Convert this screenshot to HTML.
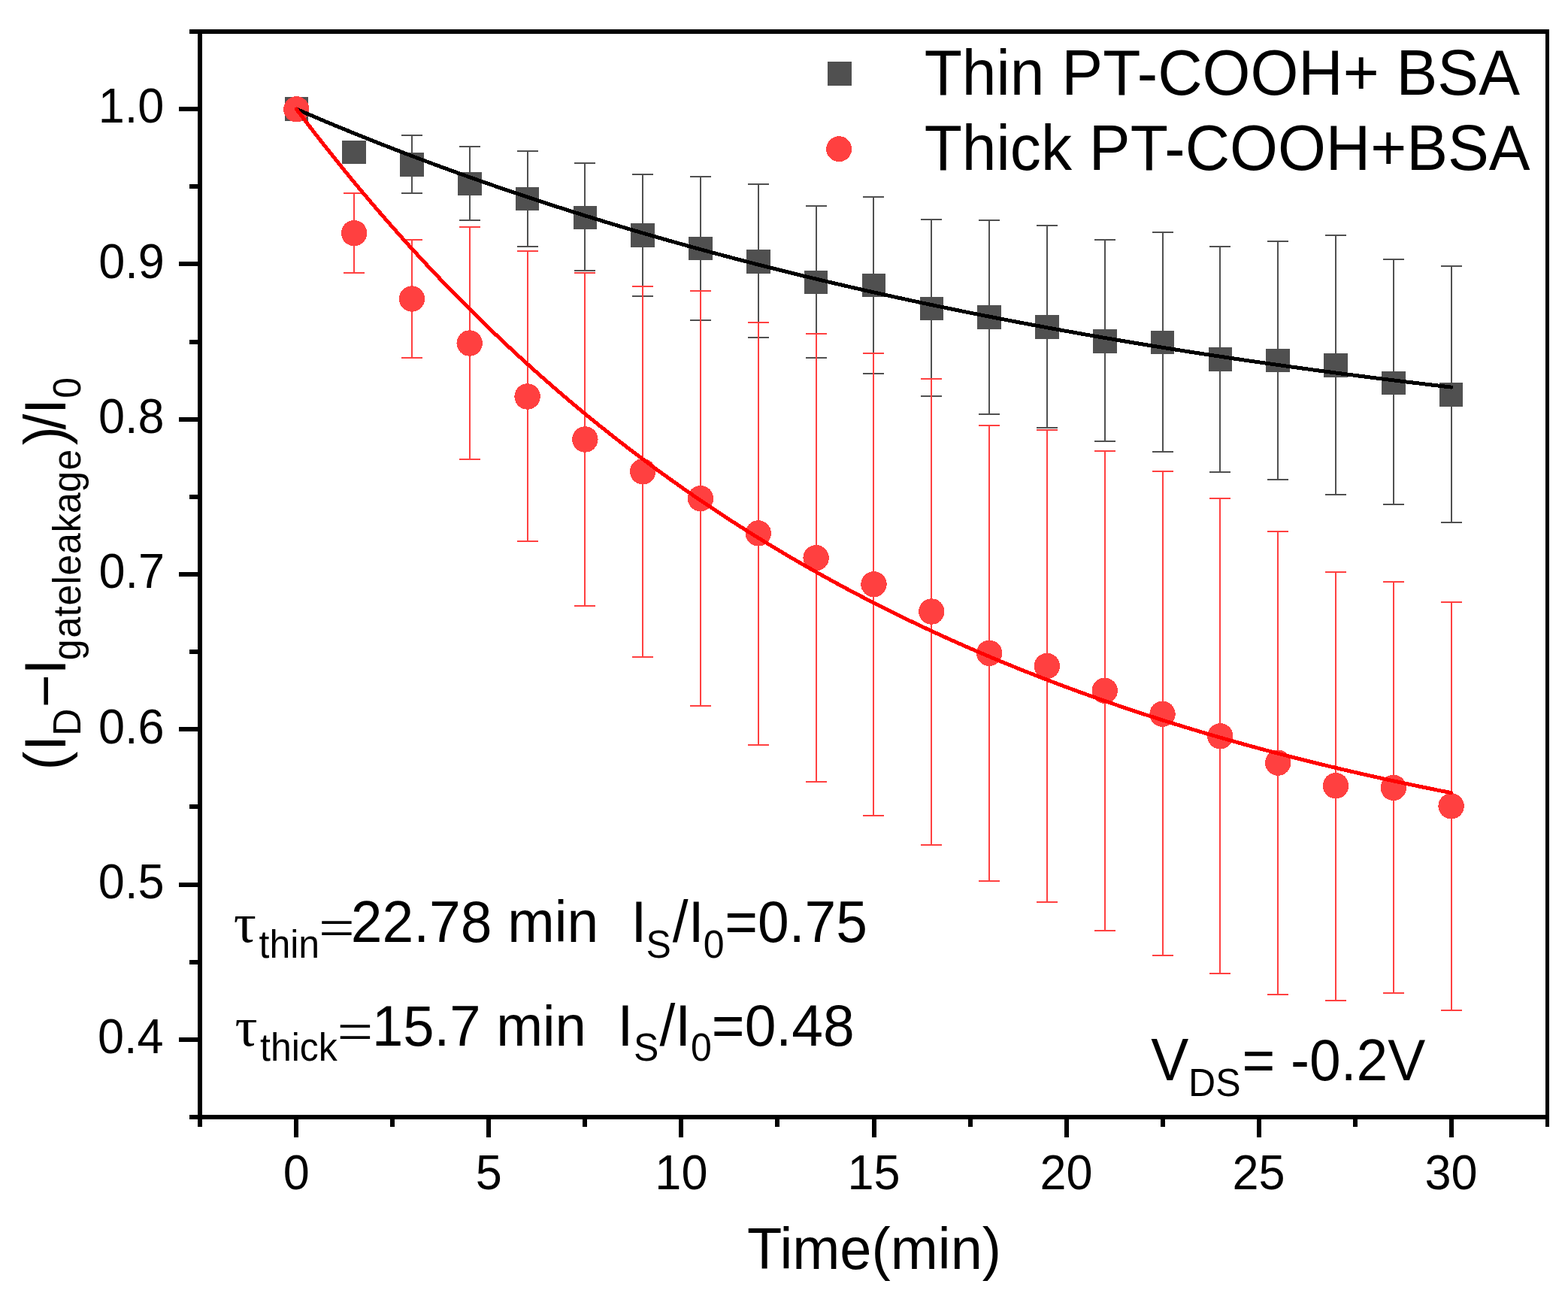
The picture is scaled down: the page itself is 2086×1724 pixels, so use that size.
<!DOCTYPE html>
<html><head><meta charset="utf-8"><style>
html,body{margin:0;padding:0;background:#fff;overflow:hidden;}
svg{display:block;}
svg{font-family:'Liberation Sans', Arial, sans-serif;} text{fill:#000;white-space:pre;}
</style></head><body>
<svg width="2086" height="1724" viewBox="0 0 2086 1724">
<rect width="2086" height="1724" fill="#fff"/>
<g shape-rendering="crispEdges">
<rect x="263" y="39" width="1798" height="6" fill="#000"/>
<rect x="263" y="1483" width="1798" height="6" fill="#000"/>
<rect x="263" y="39" width="6" height="1450" fill="#000"/>
<rect x="2056" y="39" width="5" height="1450" fill="#000"/>
<rect x="252" y="1482.9" width="11" height="6" fill="#000"/>
<rect x="238" y="1379.8" width="25" height="6" fill="#000"/>
<rect x="252" y="1276.6" width="11" height="6" fill="#000"/>
<rect x="238" y="1173.5" width="25" height="6" fill="#000"/>
<rect x="252" y="1070.4" width="11" height="6" fill="#000"/>
<rect x="238" y="967.2" width="25" height="6" fill="#000"/>
<rect x="252" y="864.1" width="11" height="6" fill="#000"/>
<rect x="238" y="760.9" width="25" height="6" fill="#000"/>
<rect x="252" y="657.8" width="11" height="6" fill="#000"/>
<rect x="238" y="554.7" width="25" height="6" fill="#000"/>
<rect x="252" y="451.5" width="11" height="6" fill="#000"/>
<rect x="238" y="348.4" width="25" height="6" fill="#000"/>
<rect x="252" y="245.2" width="11" height="6" fill="#000"/>
<rect x="238" y="142.1" width="25" height="6" fill="#000"/>
<rect x="252" y="39.0" width="11" height="6" fill="#000"/>
<rect x="263.0" y="1489" width="6" height="10" fill="#000"/>
<rect x="391.3" y="1489" width="6" height="24" fill="#000"/>
<rect x="519.3" y="1489" width="6" height="10" fill="#000"/>
<rect x="647.4" y="1489" width="6" height="24" fill="#000"/>
<rect x="775.4" y="1489" width="6" height="10" fill="#000"/>
<rect x="903.4" y="1489" width="6" height="24" fill="#000"/>
<rect x="1031.4" y="1489" width="6" height="10" fill="#000"/>
<rect x="1159.5" y="1489" width="6" height="24" fill="#000"/>
<rect x="1287.5" y="1489" width="6" height="10" fill="#000"/>
<rect x="1415.5" y="1489" width="6" height="24" fill="#000"/>
<rect x="1543.5" y="1489" width="6" height="10" fill="#000"/>
<rect x="1671.5" y="1489" width="6" height="24" fill="#000"/>
<rect x="1799.6" y="1489" width="6" height="10" fill="#000"/>
<rect x="1927.6" y="1489" width="6" height="24" fill="#000"/>
<rect x="2056" y="1489" width="5" height="10" fill="#000"/>
</g>
<path d="M548,180V257M534,180h28M534,257h28M625,195V293M611,195h28M611,293h28M702,201V328M688,201h28M688,328h28M778,217V360M764,217h28M764,360h28M855,232V394M841,232h28M841,394h28M932,235V426M918,235h28M918,426h28M1009,245V449M995,245h28M995,449h28M1086,274V476M1072,274h28M1072,476h28M1162,262V497M1148,262h28M1148,497h28M1239,292V527M1225,292h28M1225,527h28M1316,293V551M1302,293h28M1302,551h28M1393,300V569M1379,300h28M1379,569h28M1470,319V587M1456,319h28M1456,587h28M1547,309V601M1533,309h28M1533,601h28M1623,328V628M1609,328h28M1609,628h28M1700,321V638M1686,321h28M1686,638h28M1777,313V658M1763,313h28M1763,658h28M1854,345V671M1840,345h28M1840,671h28M1931,354V695M1917,354h28M1917,695h28" stroke="#505050" stroke-width="2" fill="none" shape-rendering="crispEdges"/>
<rect x="378.5" y="129.2" width="31.6" height="31.6" fill="#505050" shape-rendering="crispEdges"/>
<rect x="455.3" y="186.6" width="31.6" height="31.6" fill="#505050" shape-rendering="crispEdges"/>
<rect x="532.1" y="203.1" width="31.6" height="31.6" fill="#505050" shape-rendering="crispEdges"/>
<rect x="608.9" y="228.6" width="31.6" height="31.6" fill="#505050" shape-rendering="crispEdges"/>
<rect x="685.8" y="248.6" width="31.6" height="31.6" fill="#505050" shape-rendering="crispEdges"/>
<rect x="762.6" y="273.6" width="31.6" height="31.6" fill="#505050" shape-rendering="crispEdges"/>
<rect x="839.4" y="297.0" width="31.6" height="31.6" fill="#505050" shape-rendering="crispEdges"/>
<rect x="916.2" y="314.5" width="31.6" height="31.6" fill="#505050" shape-rendering="crispEdges"/>
<rect x="993.0" y="332.0" width="31.6" height="31.6" fill="#505050" shape-rendering="crispEdges"/>
<rect x="1069.8" y="359.6" width="31.6" height="31.6" fill="#505050" shape-rendering="crispEdges"/>
<rect x="1146.7" y="363.6" width="31.6" height="31.6" fill="#505050" shape-rendering="crispEdges"/>
<rect x="1223.5" y="394.5" width="31.6" height="31.6" fill="#505050" shape-rendering="crispEdges"/>
<rect x="1300.3" y="406.1" width="31.6" height="31.6" fill="#505050" shape-rendering="crispEdges"/>
<rect x="1377.1" y="419.0" width="31.6" height="31.6" fill="#505050" shape-rendering="crispEdges"/>
<rect x="1453.9" y="438.2" width="31.6" height="31.6" fill="#505050" shape-rendering="crispEdges"/>
<rect x="1530.7" y="439.7" width="31.6" height="31.6" fill="#505050" shape-rendering="crispEdges"/>
<rect x="1607.5" y="462.1" width="31.6" height="31.6" fill="#505050" shape-rendering="crispEdges"/>
<rect x="1684.4" y="463.6" width="31.6" height="31.6" fill="#505050" shape-rendering="crispEdges"/>
<rect x="1761.2" y="470.2" width="31.6" height="31.6" fill="#505050" shape-rendering="crispEdges"/>
<rect x="1838.0" y="493.5" width="31.6" height="31.6" fill="#505050" shape-rendering="crispEdges"/>
<rect x="1914.8" y="509.2" width="31.6" height="31.6" fill="#505050" shape-rendering="crispEdges"/>
<path d="M471,257V363M457,257h28M457,363h28M548,319V476M534,319h28M534,476h28M625,302V611M611,302h28M611,611h28M702,334V720M688,334h28M688,720h28M778,363V806M764,363h28M764,806h28M855,381V874M841,381h28M841,874h28M932,387V939M918,387h28M918,939h28M1009,429V991M995,429h28M995,991h28M1086,444V1040M1072,444h28M1072,1040h28M1162,470V1085M1148,470h28M1148,1085h28M1239,504V1124M1225,504h28M1225,1124h28M1316,566V1172M1302,566h28M1302,1172h28M1393,572V1200M1379,572h28M1379,1200h28M1470,600V1238M1456,600h28M1456,1238h28M1547,627V1271M1533,627h28M1533,1271h28M1623,663V1295M1609,663h28M1609,1295h28M1700,707V1323M1686,707h28M1686,1323h28M1777,761V1331M1763,761h28M1763,1331h28M1854,774V1321M1840,774h28M1840,1321h28M1931,801V1344M1917,801h28M1917,1344h28" stroke="#ff4040" stroke-width="2" fill="none" shape-rendering="crispEdges"/>
<circle cx="394.3" cy="145.3" r="17.2" fill="#ff4040" shape-rendering="crispEdges"/>
<circle cx="471.1" cy="310.1" r="17.2" fill="#ff4040" shape-rendering="crispEdges"/>
<circle cx="547.9" cy="397.5" r="17.2" fill="#ff4040" shape-rendering="crispEdges"/>
<circle cx="624.7" cy="456.5" r="17.2" fill="#ff4040" shape-rendering="crispEdges"/>
<circle cx="701.6" cy="527.5" r="17.2" fill="#ff4040" shape-rendering="crispEdges"/>
<circle cx="778.4" cy="584.5" r="17.2" fill="#ff4040" shape-rendering="crispEdges"/>
<circle cx="855.2" cy="627.3" r="17.2" fill="#ff4040" shape-rendering="crispEdges"/>
<circle cx="932.0" cy="663.1" r="17.2" fill="#ff4040" shape-rendering="crispEdges"/>
<circle cx="1008.8" cy="709.4" r="17.2" fill="#ff4040" shape-rendering="crispEdges"/>
<circle cx="1085.6" cy="742.2" r="17.2" fill="#ff4040" shape-rendering="crispEdges"/>
<circle cx="1162.5" cy="777.2" r="17.2" fill="#ff4040" shape-rendering="crispEdges"/>
<circle cx="1239.3" cy="813.5" r="17.2" fill="#ff4040" shape-rendering="crispEdges"/>
<circle cx="1316.1" cy="868.8" r="17.2" fill="#ff4040" shape-rendering="crispEdges"/>
<circle cx="1392.9" cy="886.0" r="17.2" fill="#ff4040" shape-rendering="crispEdges"/>
<circle cx="1469.7" cy="918.8" r="17.2" fill="#ff4040" shape-rendering="crispEdges"/>
<circle cx="1546.5" cy="949.8" r="17.2" fill="#ff4040" shape-rendering="crispEdges"/>
<circle cx="1623.3" cy="979.3" r="17.2" fill="#ff4040" shape-rendering="crispEdges"/>
<circle cx="1700.2" cy="1014.6" r="17.2" fill="#ff4040" shape-rendering="crispEdges"/>
<circle cx="1777.0" cy="1045.2" r="17.2" fill="#ff4040" shape-rendering="crispEdges"/>
<circle cx="1853.8" cy="1047.8" r="17.2" fill="#ff4040" shape-rendering="crispEdges"/>
<circle cx="1930.6" cy="1072.4" r="17.2" fill="#ff4040" shape-rendering="crispEdges"/>
<polyline points="394.30,145.10 399.42,147.31 404.54,149.52 409.66,151.71 414.78,153.90 419.91,156.07 425.03,158.24 430.15,160.39 435.27,162.54 440.39,164.68 445.51,166.81 450.63,168.92 455.75,171.03 460.87,173.13 465.99,175.22 471.12,177.31 476.24,179.38 481.36,181.44 486.48,183.50 491.60,185.54 496.72,187.58 501.84,189.61 506.96,191.63 512.08,193.64 517.20,195.64 522.33,197.63 527.45,199.61 532.57,201.59 537.69,203.55 542.81,205.51 547.93,207.46 553.05,209.40 558.17,211.33 563.29,213.26 568.41,215.17 573.54,217.08 578.66,218.98 583.78,220.87 588.90,222.75 594.02,224.62 599.14,226.49 604.26,228.34 609.38,230.19 614.50,232.03 619.62,233.87 624.75,235.69 629.87,237.51 634.99,239.32 640.11,241.12 645.23,242.91 650.35,244.70 655.47,246.48 660.59,248.24 665.71,250.01 670.83,251.76 675.96,253.51 681.08,255.25 686.20,256.98 691.32,258.70 696.44,260.42 701.56,262.13 706.68,263.83 711.80,265.52 716.92,267.21 722.04,268.89 727.16,270.56 732.29,272.22 737.41,273.88 742.53,275.53 747.65,277.17 752.77,278.81 757.89,280.43 763.01,282.05 768.13,283.67 773.25,285.27 778.38,286.87 783.50,288.47 788.62,290.05 793.74,291.63 798.86,293.20 803.98,294.77 809.10,296.33 814.22,297.88 819.34,299.42 824.46,300.96 829.59,302.49 834.71,304.02 839.83,305.53 844.95,307.04 850.07,308.55 855.19,310.05 860.31,311.54 865.43,313.02 870.55,314.50 875.67,315.97 880.80,317.44 885.92,318.90 891.04,320.35 896.16,321.79 901.28,323.23 906.40,324.67 911.52,326.09 916.64,327.52 921.76,328.93 926.88,330.34 932.01,331.74 937.13,333.14 942.25,334.53 947.37,335.91 952.49,337.29 957.61,338.66 962.73,340.03 967.85,341.39 972.97,342.74 978.09,344.09 983.21,345.43 988.34,346.77 993.46,348.10 998.58,349.42 1003.70,350.74 1008.82,352.05 1013.94,353.36 1019.06,354.66 1024.18,355.96 1029.30,357.25 1034.42,358.53 1039.55,359.81 1044.67,361.08 1049.79,362.35 1054.91,363.61 1060.03,364.87 1065.15,366.12 1070.27,367.37 1075.39,368.61 1080.51,369.84 1085.63,371.07 1090.76,372.30 1095.88,373.51 1101.00,374.73 1106.12,375.93 1111.24,377.14 1116.36,378.33 1121.48,379.53 1126.60,380.71 1131.72,381.90 1136.85,383.07 1141.97,384.24 1147.09,385.41 1152.21,386.57 1157.33,387.73 1162.45,388.88 1167.57,390.02 1172.69,391.16 1177.81,392.30 1182.93,393.43 1188.06,394.56 1193.18,395.68 1198.30,396.79 1203.42,397.91 1208.54,399.01 1213.66,400.11 1218.78,401.21 1223.90,402.30 1229.02,403.39 1234.14,404.47 1239.27,405.55 1244.39,406.62 1249.51,407.69 1254.63,408.75 1259.75,409.81 1264.87,410.87 1269.99,411.92 1275.11,412.96 1280.23,414.00 1285.35,415.04 1290.48,416.07 1295.60,417.10 1300.72,418.12 1305.84,419.14 1310.96,420.15 1316.08,421.16 1321.20,422.16 1326.32,423.16 1331.44,424.16 1336.56,425.15 1341.68,426.14 1346.81,427.12 1351.93,428.10 1357.05,429.07 1362.17,430.04 1367.29,431.01 1372.41,431.97 1377.53,432.93 1382.65,433.88 1387.77,434.83 1392.89,435.77 1398.02,436.71 1403.14,437.65 1408.26,438.58 1413.38,439.51 1418.50,440.43 1423.62,441.35 1428.74,442.27 1433.86,443.18 1438.98,444.09 1444.11,444.99 1449.23,445.89 1454.35,446.79 1459.47,447.68 1464.59,448.57 1469.71,449.45 1474.83,450.34 1479.95,451.21 1485.07,452.08 1490.19,452.95 1495.32,453.82 1500.44,454.68 1505.56,455.54 1510.68,456.39 1515.80,457.24 1520.92,458.09 1526.04,458.93 1531.16,459.77 1536.28,460.61 1541.40,461.44 1546.52,462.27 1551.65,463.09 1556.77,463.91 1561.89,464.73 1567.01,465.54 1572.13,466.35 1577.25,467.16 1582.37,467.96 1587.49,468.76 1592.61,469.56 1597.73,470.35 1602.86,471.14 1607.98,471.92 1613.10,472.71 1618.22,473.48 1623.34,474.26 1628.46,475.03 1633.58,475.80 1638.70,476.57 1643.82,477.33 1648.94,478.09 1654.07,478.84 1659.19,479.59 1664.31,480.34 1669.43,481.09 1674.55,481.83 1679.67,482.57 1684.79,483.30 1689.91,484.04 1695.03,484.76 1700.15,485.49 1705.28,486.21 1710.40,486.93 1715.52,487.65 1720.64,488.36 1725.76,489.07 1730.88,489.78 1736.00,490.48 1741.12,491.18 1746.24,491.88 1751.37,492.58 1756.49,493.27 1761.61,493.96 1766.73,494.64 1771.85,495.33 1776.97,496.00 1782.09,496.68 1787.21,497.36 1792.33,498.03 1797.45,498.69 1802.58,499.36 1807.70,500.02 1812.82,500.68 1817.94,501.34 1823.06,501.99 1828.18,502.64 1833.30,503.29 1838.42,503.93 1843.54,504.57 1848.66,505.21 1853.79,505.85 1858.91,506.48 1864.03,507.11 1869.15,507.74 1874.27,508.37 1879.39,508.99 1884.51,509.61 1889.63,510.23 1894.75,510.84 1899.87,511.45 1904.99,512.06 1910.12,512.67 1915.24,513.27 1920.36,513.87 1925.48,514.47 1930.60,515.07" fill="none" stroke="#000" stroke-width="5" stroke-linecap="round" stroke-linejoin="round" shape-rendering="crispEdges"/>
<polyline points="394.30,145.10 399.42,151.88 404.54,158.61 409.66,165.30 414.78,171.95 419.91,178.56 425.03,185.13 430.15,191.65 435.27,198.13 440.39,204.57 445.51,210.97 450.63,217.33 455.75,223.65 460.87,229.93 465.99,236.17 471.12,242.37 476.24,248.53 481.36,254.65 486.48,260.73 491.60,266.78 496.72,272.78 501.84,278.75 506.96,284.68 512.08,290.57 517.20,296.42 522.33,302.24 527.45,308.02 532.57,313.76 537.69,319.47 542.81,325.14 547.93,330.78 553.05,336.38 558.17,341.94 563.29,347.47 568.41,352.96 573.54,358.42 578.66,363.84 583.78,369.23 588.90,374.58 594.02,379.91 599.14,385.19 604.26,390.45 609.38,395.67 614.50,400.85 619.62,406.01 624.75,411.13 629.87,416.22 634.99,421.27 640.11,426.30 645.23,431.29 650.35,436.25 655.47,441.18 660.59,446.08 665.71,450.94 670.83,455.78 675.96,460.58 681.08,465.36 686.20,470.10 691.32,474.82 696.44,479.50 701.56,484.16 706.68,488.78 711.80,493.38 716.92,497.94 722.04,502.48 727.16,506.99 732.29,511.47 737.41,515.92 742.53,520.35 747.65,524.74 752.77,529.11 757.89,533.45 763.01,537.76 768.13,542.04 773.25,546.30 778.38,550.53 783.50,554.74 788.62,558.91 793.74,563.06 798.86,567.19 803.98,571.28 809.10,575.36 814.22,579.40 819.34,583.42 824.46,587.42 829.59,591.39 834.71,595.33 839.83,599.25 844.95,603.14 850.07,607.01 855.19,610.86 860.31,614.68 865.43,618.48 870.55,622.25 875.67,626.00 880.80,629.72 885.92,633.42 891.04,637.10 896.16,640.75 901.28,644.38 906.40,647.99 911.52,651.58 916.64,655.14 921.76,658.68 926.88,662.19 932.01,665.69 937.13,669.16 942.25,672.61 947.37,676.04 952.49,679.45 957.61,682.83 962.73,686.20 967.85,689.54 972.97,692.86 978.09,696.16 983.21,699.44 988.34,702.70 993.46,705.93 998.58,709.15 1003.70,712.35 1008.82,715.52 1013.94,718.68 1019.06,721.82 1024.18,724.93 1029.30,728.03 1034.42,731.10 1039.55,734.16 1044.67,737.20 1049.79,740.22 1054.91,743.22 1060.03,746.20 1065.15,749.16 1070.27,752.10 1075.39,755.02 1080.51,757.93 1085.63,760.82 1090.76,763.68 1095.88,766.54 1101.00,769.37 1106.12,772.18 1111.24,774.98 1116.36,777.76 1121.48,780.52 1126.60,783.26 1131.72,785.99 1136.85,788.70 1141.97,791.39 1147.09,794.06 1152.21,796.72 1157.33,799.36 1162.45,801.98 1167.57,804.59 1172.69,807.18 1177.81,809.75 1182.93,812.31 1188.06,814.85 1193.18,817.38 1198.30,819.89 1203.42,822.38 1208.54,824.86 1213.66,827.32 1218.78,829.77 1223.90,832.20 1229.02,834.61 1234.14,837.01 1239.27,839.40 1244.39,841.77 1249.51,844.12 1254.63,846.46 1259.75,848.79 1264.87,851.10 1269.99,853.39 1275.11,855.67 1280.23,857.94 1285.35,860.19 1290.48,862.43 1295.60,864.65 1300.72,866.86 1305.84,869.05 1310.96,871.24 1316.08,873.40 1321.20,875.56 1326.32,877.70 1331.44,879.82 1336.56,881.94 1341.68,884.04 1346.81,886.12 1351.93,888.19 1357.05,890.25 1362.17,892.30 1367.29,894.33 1372.41,896.36 1377.53,898.36 1382.65,900.36 1387.77,902.34 1392.89,904.31 1398.02,906.27 1403.14,908.21 1408.26,910.15 1413.38,912.07 1418.50,913.97 1423.62,915.87 1428.74,917.75 1433.86,919.63 1438.98,921.49 1444.11,923.33 1449.23,925.17 1454.35,927.00 1459.47,928.81 1464.59,930.61 1469.71,932.40 1474.83,934.18 1479.95,935.95 1485.07,937.70 1490.19,939.45 1495.32,941.18 1500.44,942.91 1505.56,944.62 1510.68,946.32 1515.80,948.01 1520.92,949.69 1526.04,951.36 1531.16,953.02 1536.28,954.67 1541.40,956.31 1546.52,957.93 1551.65,959.55 1556.77,961.16 1561.89,962.75 1567.01,964.34 1572.13,965.92 1577.25,967.48 1582.37,969.04 1587.49,970.58 1592.61,972.12 1597.73,973.65 1602.86,975.17 1607.98,976.67 1613.10,978.17 1618.22,979.66 1623.34,981.14 1628.46,982.61 1633.58,984.07 1638.70,985.52 1643.82,986.96 1648.94,988.39 1654.07,989.82 1659.19,991.23 1664.31,992.64 1669.43,994.03 1674.55,995.42 1679.67,996.80 1684.79,998.17 1689.91,999.53 1695.03,1000.88 1700.15,1002.23 1705.28,1003.56 1710.40,1004.89 1715.52,1006.21 1720.64,1007.52 1725.76,1008.82 1730.88,1010.12 1736.00,1011.40 1741.12,1012.68 1746.24,1013.95 1751.37,1015.21 1756.49,1016.46 1761.61,1017.71 1766.73,1018.95 1771.85,1020.18 1776.97,1021.40 1782.09,1022.61 1787.21,1023.82 1792.33,1025.02 1797.45,1026.21 1802.58,1027.39 1807.70,1028.57 1812.82,1029.74 1817.94,1030.90 1823.06,1032.05 1828.18,1033.20 1833.30,1034.34 1838.42,1035.47 1843.54,1036.59 1848.66,1037.71 1853.79,1038.82 1858.91,1039.92 1864.03,1041.02 1869.15,1042.11 1874.27,1043.19 1879.39,1044.27 1884.51,1045.34 1889.63,1046.40 1894.75,1047.45 1899.87,1048.50 1904.99,1049.54 1910.12,1050.58 1915.24,1051.61 1920.36,1052.63 1925.48,1053.64 1930.60,1054.65" fill="none" stroke="#ff0000" stroke-width="5" stroke-linecap="round" stroke-linejoin="round" shape-rendering="crispEdges"/>
<text transform="translate(130.07,1401.08) scale(1,1.02)" font-size="63">0.4</text>
<text transform="translate(130.87,1194.80) scale(1,1.02)" font-size="63">0.5</text>
<text transform="translate(130.99,988.52) scale(1,1.02)" font-size="63">0.6</text>
<text transform="translate(131.39,782.24) scale(1,1.02)" font-size="63">0.7</text>
<text transform="translate(130.96,575.96) scale(1,1.02)" font-size="63">0.8</text>
<text transform="translate(131.21,369.68) scale(1,1.02)" font-size="63">0.9</text>
<text transform="translate(130.68,163.40) scale(1,1.02)" font-size="63">1.0</text>
<text transform="translate(376.78,1581.8) scale(1,1.02)" font-size="63">0</text>
<text transform="translate(632.83,1581.8) scale(1,1.02)" font-size="63">5</text>
<text transform="translate(871.36,1581.8) scale(1,1.02)" font-size="63">10</text>
<text transform="translate(1127.41,1581.8) scale(1,1.02)" font-size="63">15</text>
<text transform="translate(1383.46,1581.8) scale(1,1.02)" font-size="63">20</text>
<text transform="translate(1639.51,1581.8) scale(1,1.02)" font-size="63">25</text>
<text transform="translate(1895.56,1581.8) scale(1,1.02)" font-size="63">30</text>
<text transform="translate(993.90,1688.00) scale(1.0,1.035)" font-size="75.8">Time(min)</text>
<rect x="1101" y="82" width="32" height="32" fill="#505050"/>
<circle cx="1116.2" cy="198.2" r="17" fill="#ff4040" shape-rendering="crispEdges"/>
<text transform="translate(1229.65,126.10) scale(1.0,1.045)" font-size="82.2">Thin PT-COOH+ BSA</text>
<text transform="translate(1229.65,225.80) scale(1.0,1.045)" font-size="82.2">Thick PT-COOH+BSA</text>
<text x="310.65" y="1253.00" font-size="75" font-family="'Liberation Serif', 'DejaVu Serif', serif">τ</text>
<text transform="translate(344.54,1274.10) scale(1.0,1.035)" font-size="50">thin</text>
<text transform="translate(423.88,1259.30) scale(1.13,1.0)" font-size="75" font-family="'Liberation Serif', 'DejaVu Serif', serif">=</text>
<text transform="translate(466.83,1253.00) scale(1.0,1.035)" font-size="75">22.78 min</text>
<text transform="translate(839.48,1253.00) scale(1.0,1.035)" font-size="75">I</text>
<text transform="translate(859.43,1274.10) scale(1.0,1.035)" font-size="50">S</text>
<text transform="translate(894.80,1253.00) scale(1.0,1.035)" font-size="75">/I</text>
<text transform="translate(935.75,1274.10) scale(1.0,1.035)" font-size="50">0</text>
<text transform="translate(964.14,1253.00) scale(1.0,1.035)" font-size="75">=0.75</text>
<text x="312.45" y="1391.10" font-size="75" font-family="'Liberation Serif', 'DejaVu Serif', serif">τ</text>
<text transform="translate(346.04,1411.00) scale(1.0,1.035)" font-size="50">thick</text>
<text transform="translate(448.38,1397.40) scale(1.13,1.0)" font-size="75" font-family="'Liberation Serif', 'DejaVu Serif', serif">=</text>
<text transform="translate(494.94,1391.10) scale(1.0,1.035)" font-size="74.3">15.7 min</text>
<text transform="translate(821.38,1391.10) scale(1.0,1.035)" font-size="75">I</text>
<text transform="translate(842.93,1411.00) scale(1.0,1.035)" font-size="50">S</text>
<text transform="translate(877.40,1391.10) scale(1.0,1.035)" font-size="75">/I</text>
<text transform="translate(918.95,1411.00) scale(1.0,1.035)" font-size="50">0</text>
<text transform="translate(946.84,1391.10) scale(1.0,1.035)" font-size="75">=0.48</text>
<text transform="translate(1531.17,1437.30) scale(1.0,1.05)" font-size="75">V</text>
<text transform="translate(1581.10,1457.80) scale(1.0,1.05)" font-size="50">DS</text>
<text transform="translate(1652.44,1437.30) scale(1.0,1.035)" font-size="75">= -0.2V</text>
<g transform="rotate(-90) translate(0,87) scale(1,1.04) translate(0,-87)"><text x="-1024.45" y="87.00" font-size="75">(</text><text x="-998.92" y="87.00" font-size="75">I</text><text x="-978.80" y="106.30" font-size="50">D</text><text x="-941.20" y="87.00" font-size="75">−</text><text x="-897.52" y="87.00" font-size="75">I</text><text x="-878.20 -848.62 -820.36 -805.62 -777.27 -765.62 -736.92 -708.17 -683.02 -654.70 -625.62" y="106.3" font-size="50">gateleakage</text><text x="-592.14" y="87.00" font-size="75">)</text><text x="-571.60" y="87.00" font-size="75">/</text><text x="-550.92" y="87.00" font-size="75">I</text><text x="-529.75" y="106.60" font-size="50">0</text></g>
</svg>
</body></html>
